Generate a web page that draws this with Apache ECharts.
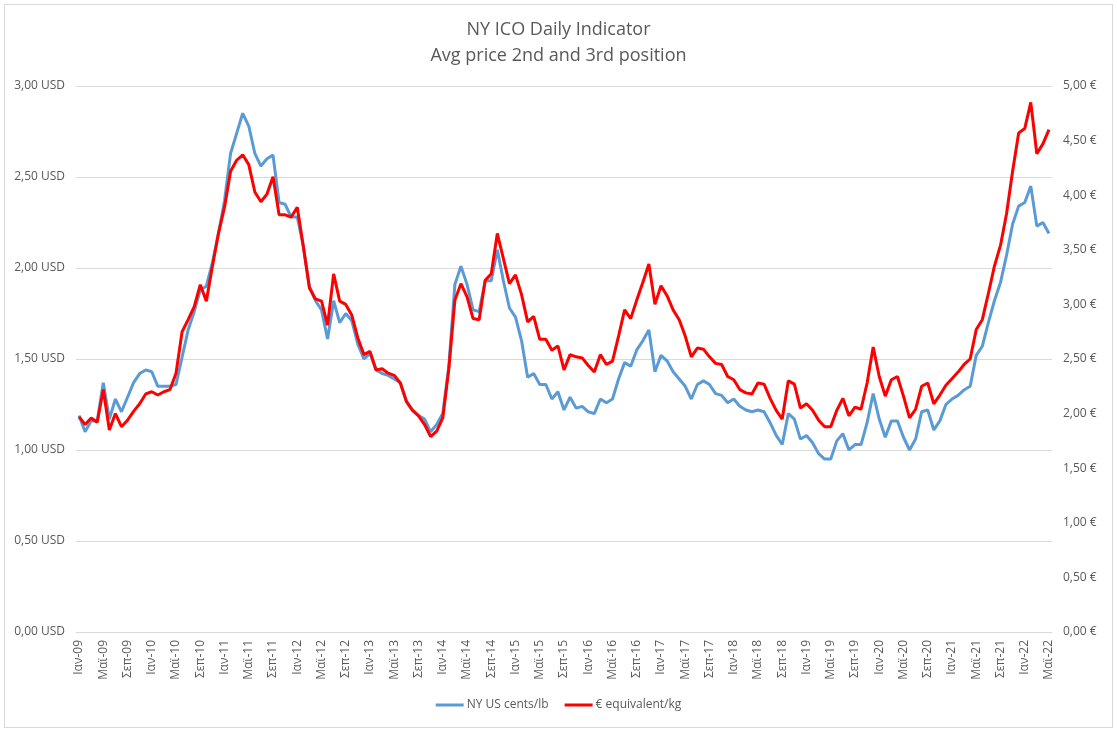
<!DOCTYPE html>
<html>
<head>
<meta charset="utf-8">
<script src="https://cdn.jsdelivr.net/npm/echarts@6/dist/echarts.min.js"></script>
<style>
  html, body { margin: 0; padding: 0; background: #fff; }
  #frame { position: absolute; left: 4px; top: 4px; width: 1107px; height: 722px; border: 1px solid #d9d9d9; }
  #chart { position: absolute; left: 0; top: 0; width: 1117px; height: 732px; }
</style>
</head>
<body>
<div id="frame"></div>
<div id="chart"></div>
<script>
// Month names (Greek, as in the reference) and years
const monthNames = ['Ιαν','Φεβ','Μαρ','Απρ','Μαϊ','Ιουν','Ιουλ','Αυγ','Σεπ','Οκτ','Νοε','Δεκ'];
const startYear = 2009, endYear = 2022, endMonth = 5; // Jan 2009 .. May 2022
const categories = [];
for (let y = startYear; y <= endYear; y++) {
  for (let m = 0; m < 12; m++) {
    if (y === endYear && m >= endMonth) break;
    categories.push(monthNames[m] + '-' + String(y).slice(2));
  }
}

// NY US cents/lb (in USD per lb, left axis)
const nyUsd = [
  1.19,1.10,1.16,1.16,1.37,1.17,1.28,1.21,1.29,1.37,1.42,1.44,
  1.43,1.35,1.35,1.35,1.36,1.51,1.66,1.76,1.88,1.90,2.03,2.19,
  2.37,2.63,2.74,2.85,2.78,2.63,2.56,2.60,2.62,2.36,2.35,2.28,
  2.28,2.12,1.90,1.82,1.77,1.61,1.82,1.70,1.75,1.71,1.58,1.50,
  1.53,1.44,1.42,1.41,1.39,1.37,1.27,1.22,1.19,1.17,1.10,1.14,
  1.20,1.46,1.91,2.01,1.91,1.77,1.76,1.93,1.93,2.10,1.93,1.78,
  1.73,1.60,1.40,1.42,1.36,1.36,1.28,1.32,1.22,1.29,1.23,1.24,
  1.21,1.20,1.28,1.26,1.28,1.39,1.48,1.46,1.55,1.60,1.66,1.43,
  1.52,1.49,1.43,1.39,1.35,1.28,1.36,1.38,1.36,1.31,1.30,1.26,
  1.28,1.24,1.22,1.21,1.22,1.21,1.15,1.08,1.03,1.20,1.17,1.06,
  1.08,1.04,0.98,0.95,0.95,1.05,1.09,1.00,1.03,1.03,1.15,1.31,
  1.17,1.07,1.16,1.16,1.07,1.00,1.06,1.21,1.22,1.11,1.16,1.25,
  1.28,1.30,1.33,1.35,1.52,1.57,1.70,1.82,1.92,2.07,2.24,2.34,
  2.36,2.45,2.23,2.25,2.19
];

// € equivalent/kg (right axis)
const eurKg = [
  1.97,1.90,1.96,1.92,2.22,1.85,2.00,1.88,1.94,2.02,2.09,2.18,
  2.20,2.17,2.20,2.22,2.37,2.75,2.86,2.98,3.18,3.03,3.35,3.65,
  3.89,4.22,4.32,4.37,4.28,4.03,3.94,4.01,4.17,3.82,3.82,3.80,
  3.89,3.53,3.15,3.05,3.03,2.81,3.28,3.03,3.00,2.90,2.69,2.54,
  2.57,2.40,2.41,2.37,2.35,2.28,2.11,2.03,1.98,1.90,1.79,1.84,
  1.96,2.41,3.04,3.19,3.07,2.87,2.86,3.22,3.28,3.65,3.42,3.19,
  3.27,3.09,2.84,2.89,2.68,2.68,2.58,2.62,2.40,2.54,2.52,2.51,
  2.44,2.38,2.54,2.45,2.48,2.71,2.95,2.87,3.04,3.20,3.37,3.00,
  3.17,3.08,2.95,2.86,2.71,2.52,2.60,2.59,2.52,2.46,2.45,2.34,
  2.31,2.22,2.19,2.18,2.28,2.27,2.14,2.03,1.95,2.30,2.27,2.05,
  2.09,2.03,1.94,1.88,1.88,2.03,2.14,1.98,2.06,2.04,2.28,2.61,
  2.34,2.16,2.31,2.34,2.16,1.96,2.04,2.25,2.28,2.09,2.17,2.26,
  2.32,2.38,2.45,2.50,2.77,2.86,3.10,3.35,3.54,3.83,4.22,4.57,
  4.61,4.85,4.38,4.47,4.60
];

const leftTicks = { min: 0, max: 3, interval: 0.5 };
const rightTicks = { min: 0, max: 5, interval: 0.5 };

const fontFam = '"Open Sans", "Liberation Sans", sans-serif';
const txt = '#595959';
const fmt = v => v.toFixed(2).replace('.', ',');

const chart = echarts.init(document.getElementById('chart'), null, { renderer: 'canvas' });
chart.setOption({
  animation: false,
  textStyle: { fontFamily: fontFam },
  title: {
    text: 'NY ICO Daily Indicator\nAvg price 2nd and 3rd position',
    left: 'center', top: 12,
    textStyle: { fontFamily: fontFam, fontSize: 18, fontWeight: 'normal', color: txt, lineHeight: 26 }
  },
  legend: {
    bottom: 16, left: 'center',
    icon: 'rect', itemWidth: 28, itemHeight: 3, itemGap: 16,
    textStyle: { fontFamily: fontFam, fontSize: 12, color: txt, padding: [0, 0, 0, -2] },
    data: ['NY US cents/lb', '€ equivalent/kg']
  },
  grid: { left: 76, right: 65, top: 86, bottom: 100 },
  xAxis: {
    type: 'category', data: categories, boundaryGap: true,
    axisLine: { lineStyle: { color: '#d9d9d9' } },
    axisTick: { interval: 3, lineStyle: { color: '#d9d9d9' }, length: 5 },
    axisLabel: { interval: 3, rotate: 90, color: txt, fontSize: 12, fontFamily: fontFam, margin: 8 }
  },
  yAxis: [
    {
      type: 'value', min: leftTicks.min, max: leftTicks.max, interval: leftTicks.interval,
      axisLine: { show: false }, axisTick: { show: false },
      splitLine: { lineStyle: { color: '#d9d9d9' } },
      axisLabel: { color: txt, fontSize: 12, fontFamily: fontFam, margin: 11, formatter: v => fmt(v) + ' USD' }
    },
    {
      type: 'value', min: rightTicks.min, max: rightTicks.max, interval: rightTicks.interval,
      position: 'right',
      axisLine: { show: false }, axisTick: { show: false }, splitLine: { show: false },
      axisLabel: { color: txt, fontSize: 12, fontFamily: fontFam, margin: 11, formatter: v => fmt(v) + ' €' }
    }
  ],
  series: [
    {
      name: 'NY US cents/lb', type: 'line', yAxisIndex: 0, data: nyUsd,
      symbol: 'none', lineStyle: { color: '#5b9bd5', width: 3 }, itemStyle: { color: '#5b9bd5' }
    },
    {
      name: '€ equivalent/kg', type: 'line', yAxisIndex: 1, data: eurKg,
      symbol: 'none', lineStyle: { color: '#ff0000', width: 3 }, itemStyle: { color: '#ff0000' }
    }
  ]
});
</script>
</body>
</html>
